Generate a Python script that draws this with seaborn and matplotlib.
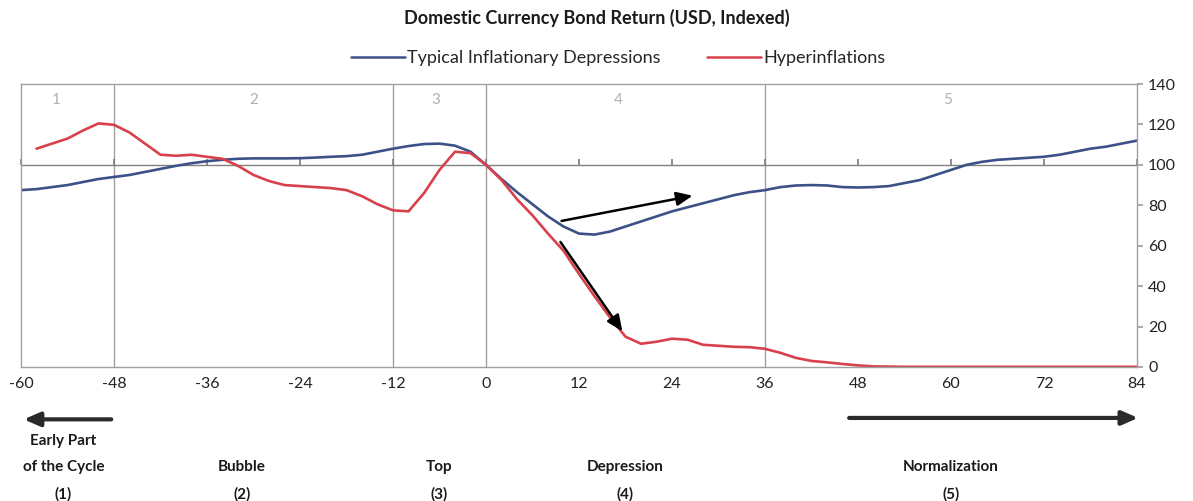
import numpy as np
import pandas as pd
import matplotlib
matplotlib.use("Agg")
import matplotlib.pyplot as plt
import seaborn as sns

# ---- data ----
months_blue = list(range(-60, 86, 2))
typical = [87.5, 88, 89, 90, 91.5, 93, 94, 95, 96.5, 98, 99.5, 100.8, 101.8, 102.5,
           103, 103.2, 103.2, 103.2, 103.3, 103.6, 104, 104.3, 105, 106.5, 108, 109.3,
           110.3, 110.5, 109.5, 106.5, 100, 93, 86.5, 80.5, 74.5, 69.5, 66, 65.5, 67,
           69.5, 72, 74.5, 77, 79, 81, 83, 85, 86.5, 87.5, 89, 89.8, 90, 89.8, 89, 88.8,
           89, 89.5, 91, 92.5, 95, 97.5, 100, 101.5, 102.5, 103, 103.5, 104, 105, 106.5,
           108, 109, 110.5, 112]

months_red = list(range(-58, 86, 2))
hyper = [108, 110.5, 113, 117, 120.5, 119.8, 116, 110.5, 105, 104.5, 105, 104, 103,
         99.5, 95, 92, 90, 89.5, 89, 88.5, 87.5, 84.5, 80.5, 77.5, 77, 86, 97.5, 106.5,
         105.8, 100, 92.5, 83, 75, 66, 57.5, 46, 35, 24.5, 15, 11.5, 12.5, 14, 13.5, 11,
         10.5, 10, 9.8, 9, 7, 4.5, 3, 2.3, 1.5, 0.8, 0.3, 0.2, 0.1, 0.1, 0.1, 0.1, 0.1,
         0.1, 0.1, 0.1, 0.1, 0.1, 0.1, 0.1, 0.1, 0.1, 0.1, 0.1]

x_ticks = [-60, -48, -36, -24, -12, 0, 12, 24, 36, 48, 60, 72, 84]
y_ticks = [0, 20, 40, 60, 80, 100, 120, 140]
phase_bounds = [-48, -12, 0, 36]
phase_numbers = ["1", "2", "3", "4", "5"]
phase_number_x = [-55.5, -30, -6.5, 17, 59.5]
phase_labels = ["Early Part\nof the Cycle\n(1)", "Bubble\n(2)", "Top\n(3)",
                "Depression\n(4)", "Normalization\n(5)"]
phase_label_x = [-54.5, -31.5, -6, 18, 60]

title = "Domestic Currency Bond Return (USD, Indexed)"
series_names = ["Typical Inflationary Depressions", "Hyperinflations"]

# ---- style ----
sns.set_theme(style="white")
plt.rcParams['font.family'] = ['Lato', 'DejaVu Sans']

BLUE = "#3d5189"
RED = "#d8414b"
GRID = "#a0a0a0"

df = pd.concat([
    pd.DataFrame({"month": months_blue, "value": typical, "series": series_names[0]}),
    pd.DataFrame({"month": months_red, "value": hyper, "series": series_names[1]}),
])

fig = plt.figure(figsize=(11.93, 5.01), dpi=100)
ax = fig.add_axes([21/1193, 1 - 367/501, (1137 - 21)/1193, (367 - 84)/501])

sns.lineplot(data=df, x="month", y="value", hue="series",
             palette={series_names[0]: BLUE, series_names[1]: RED},
             linewidth=1.9, ax=ax, legend=False)

ax.set_xlim(-60, 84)
ax.set_ylim(0, 140)
ax.set_xlabel("")
ax.set_ylabel("")

# frame
for s in ax.spines.values():
    s.set_color(GRID)
    s.set_linewidth(1.0)

# phase separators and 100 line
for b in phase_bounds:
    ax.axvline(b, color=GRID, lw=1.0, zorder=0)
ax.axhline(100, color="#808080", lw=1.0, zorder=0)

# y axis on the right
ax.yaxis.tick_right()
ax.set_yticks(y_ticks)
ax.tick_params(axis="y", which="both", right=True, left=False, direction="out",
               length=4, color=GRID, labelsize=11.5, labelcolor="#222222", pad=4)

# x tick labels at the bottom without marks
ax.set_xticks(x_ticks)
ax.set_xticklabels([str(t) for t in x_ticks])
ax.tick_params(axis="x", bottom=True, length=0, labelsize=11.5, labelcolor="#222222", pad=7)

# small tick marks on the 100 line
sec = ax.secondary_xaxis(100 / 140)
sec.set_xticks(x_ticks)
sec.set_xticklabels([""] * len(x_ticks))
sec.tick_params(axis="x", direction="out", length=4, color="#808080")
sec.spines['bottom'].set_visible(False)
sec.spines['top'].set_visible(False)

# phase numbers
for xn, t in zip(phase_number_x, phase_numbers):
    ax.text(xn, 132, t, color="#b0b0b0", fontsize=11, ha="center", va="center")

# arrows inside the chart
ax.annotate("", xy=(27, 85), xytext=(9.4, 72),
            arrowprops=dict(arrowstyle="-|>,head_length=0.8,head_width=0.35",
                            color="black", lw=1.8))
ax.annotate("", xy=(17.8, 16.5), xytext=(9.4, 63),
            arrowprops=dict(arrowstyle="-|>,head_length=0.8,head_width=0.35",
                            color="black", lw=1.8))

# arrows below the chart
trans = ax.get_xaxis_transform()
ax.annotate("", xy=(-60, -0.185), xytext=(-48, -0.185), xycoords=trans, textcoords=trans,
            arrowprops=dict(arrowstyle="-|>,head_length=0.8,head_width=0.35",
                            color="#2a2a2a", lw=3), annotation_clip=False)
ax.annotate("", xy=(84.5, -0.18), xytext=(46.5, -0.18), xycoords=trans, textcoords=trans,
            arrowprops=dict(arrowstyle="-|>,head_length=0.8,head_width=0.35",
                            color="#2a2a2a", lw=3), annotation_clip=False)

# phase labels below
for xl, t in zip(phase_label_x, phase_labels):
    ax.text(xl, -0.475, t, transform=trans, ha="center", va="bottom",
            fontsize=11, fontweight="bold", linespacing=2.1, color="#1a1a1a")

# title and legend
fig.text(597/1193, 1 - 18/501, title, ha="center", va="center",
         fontsize=13, fontweight="bold", color="#1a1a1a")
handles = [plt.Line2D([], [], color=BLUE, lw=1.8), plt.Line2D([], [], color=RED, lw=1.8)]
fig.legend(handles, series_names, loc="center", bbox_to_anchor=(618/1193, 1 - 58/501),
           ncol=2, frameon=False, fontsize=13, handlelength=3.0, handletextpad=0.1,
           columnspacing=2.6)

fig.savefig("out.png", dpi=100)
